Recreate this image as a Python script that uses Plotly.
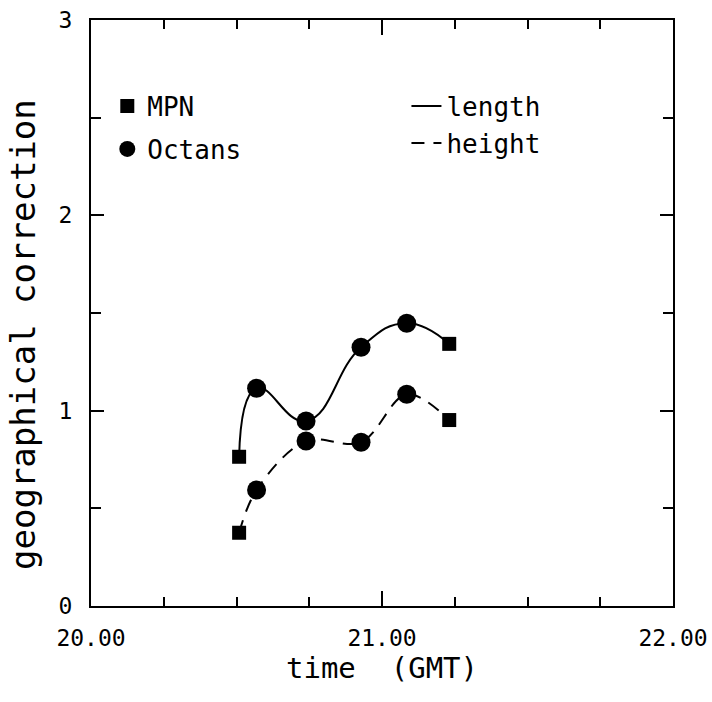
import plotly.graph_objects as go

# Data
time_gmt = [20.509, 20.569, 20.739, 20.928, 21.085, 21.231]
length_corr = [0.764, 1.115, 0.947, 1.325, 1.448, 1.342]
height_corr = [0.375, 0.594, 0.845, 0.838, 1.084, 0.952]
source = ["MPN", "Octans", "Octans", "Octans", "Octans", "MPN"]

x_ticks = [20, 21, 22]
x_tick_labels = ["20.00", "21.00", "22.00"]
y_ticks = [0, 1, 2, 3]

FONT = "DejaVu Sans Mono, Liberation Mono, monospace"

fig = go.Figure()

# curves
fig.add_trace(go.Scatter(
    x=time_gmt, y=length_corr, mode="lines", name="length",
    line=dict(color="black", width=2, shape="spline", smoothing=1.3),
    legend="legend2", hoverinfo="skip"))
fig.add_trace(go.Scatter(
    x=time_gmt, y=height_corr, mode="lines", name="height",
    line=dict(color="black", width=2, shape="spline", smoothing=1.0, dash="13px,9px"),
    legend="legend2", hoverinfo="skip"))

# markers by source
for src, sym, size in [("MPN", "square", 14), ("Octans", "circle", 19)]:
    xs, ys = [], []
    for t, l, h, s in zip(time_gmt, length_corr, height_corr, source):
        if s == src:
            xs += [t, t]
            ys += [l, h]
    fig.add_trace(go.Scatter(
        x=xs, y=ys, mode="markers", name=src,
        marker=dict(symbol=sym, size=size, color="black", line=dict(width=0)),
        legend="legend", legendgroup=src))

axis_common = dict(
    showline=True, linecolor="black", linewidth=2, mirror="ticks",
    ticks="inside", tickcolor="black", tickwidth=1.5,
    showgrid=False, zeroline=False, automargin=False,
    ticklabeloverflow="allow",
    tickfont=dict(family=FONT, size=23, color="black"),
)

fig.update_xaxes(
    range=[20, 22], tickvals=x_ticks, ticktext=x_tick_labels, ticklen=15,
    minor=dict(dtick=0.25, tick0=20, ticks="inside", ticklen=9, tickwidth=1.5,
               tickcolor="black", showgrid=False),
    ticklabelstandoff=10,
    title=dict(text="time\u00a0\u00a0(GMT)", font=dict(family=FONT, size=29, color="black"),
               standoff=6),
    **axis_common)
fig.update_yaxes(
    range=[0, 3], tickvals=y_ticks, ticklen=13,
    minor=dict(dtick=0.5, tick0=0, ticks="inside", ticklen=10, tickwidth=1.5,
               tickcolor="black", showgrid=False),
    ticklabelstandoff=12,
    **axis_common)

fig.add_annotation(
    text="geographical correction", xref="paper", yref="paper",
    x=-0.1168, y=0.4625, xanchor="center", yanchor="middle", textangle=-90,
    showarrow=False, borderpad=0, font=dict(family=FONT, size=34, color="black"))

legend_common = dict(
    bgcolor="rgba(0,0,0,0)", font=dict(family=FONT, size=26, color="black"),
    xanchor="left", yanchor="top", traceorder="grouped", tracegroupgap=6,
    itemsizing="trace")

fig.update_layout(
    width=712, height=702,
    margin=dict(l=91, r=39, t=20, b=96),
    paper_bgcolor="white", plot_bgcolor="white",
    showlegend=True,
    legend=dict(x=0.028, y=0.893, **legend_common),
    legend2=dict(x=0.542, y=0.893, **legend_common),
)

# remove the default page margin so the figure fills the window exactly
fig.write_html(
    "out.html",
    config={"displayModeBar": False},
    post_script="document.body.style.margin='0';document.body.style.overflow='hidden';")
